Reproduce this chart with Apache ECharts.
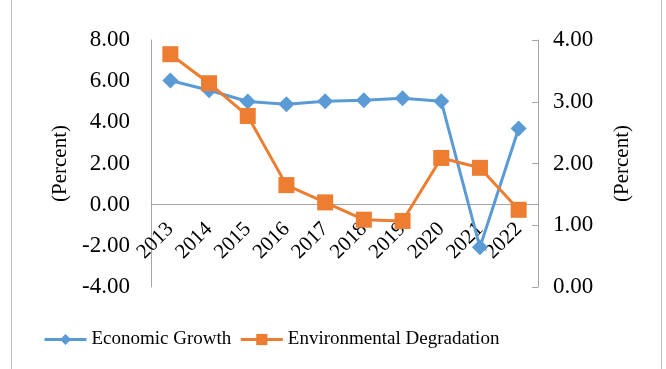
<!DOCTYPE html>
<html lang="en">
<head>
    <meta charset="UTF-8">
    <title>Growth vs Degradation</title>
    <script src="https://cdn.jsdelivr.net/npm/echarts@6/dist/echarts.min.js"></script>
    <style>
        body { margin: 0; background: #fff; }
    </style>
</head>
<body>
    <div id="main" style="width: 666px;height: 369px"></div>
    <script type="text/javascript">
        var years = ['2013', '2014', '2015', '2016', '2017', '2018', '2019', '2020', '2021', '2022'];
        var growth = [6.03, 5.56, 5.01, 4.88, 5.03, 5.07, 5.17, 5.02, -2.07, 3.70];
        var degradation = [3.77, 3.30, 2.77, 1.65, 1.37, 1.09, 1.07, 2.09, 1.93, 1.25];

        var font = 'Liberation Serif';
        var grey = '#a6a6a6';

        var myChart = echarts.init(document.getElementById('main'));
        var option = {
            animation: false,
            textStyle: { fontFamily: font, color: '#000' },
            graphic: [{
                type: 'rect',
                shape: { x: 11.5, y: -2, width: 650, height: 373 },
                style: { fill: 'none', stroke: '#bfbfbf', lineWidth: 1 }
            }],
            grid: { left: 151, right: 128, top: 40, bottom: 82 },
            legend: {
                bottom: 15,
                left: 38,
                itemWidth: 42,
                itemHeight: 14,
                itemGap: 8,
                lineStyle: { width: 3 },
                textStyle: { fontFamily: font, fontSize: 19, color: '#000' },
                data: ['Economic Growth', 'Environmental Degradation']
            },
            xAxis: {
                type: 'category',
                data: years,
                z: 0,
                axisLine: { onZero: true, lineStyle: { color: grey } },
                axisTick: { show: false },
                axisLabel: { rotate: 45, interval: 0, fontSize: 21, color: '#000', margin: -61, fontFamily: font }
            },
            yAxis: [{
                type: 'value',
                min: -4, max: 8, interval: 2,
                name: '(Percent)',
                nameLocation: 'middle',
                nameGap: 80,
                nameTextStyle: { fontFamily: font, fontSize: 21, color: '#000' },
                splitLine: { show: false },
                axisLine: { show: true, lineStyle: { color: grey } },
                axisTick: { show: false },
                axisLabel: { fontSize: 23, color: '#000', margin: 21, fontFamily: font,
                    formatter: function (v) { return v.toFixed(2); } }
            }, {
                type: 'value',
                min: 0, max: 4, interval: 1,
                position: 'right',
                name: '(Percent)',
                nameLocation: 'middle',
                nameGap: 74,
                nameRotate: 90,
                nameTextStyle: { fontFamily: font, fontSize: 21, color: '#000' },
                splitLine: { show: false },
                axisLine: { show: true, lineStyle: { color: grey } },
                axisTick: { show: true, inside: true, length: 6, lineStyle: { color: grey } },
                axisLabel: { fontSize: 23, color: '#000', margin: 15, fontFamily: font,
                    formatter: function (v) { return v.toFixed(2); } }
            }],
            series: [{
                name: 'Economic Growth',
                type: 'line',
                z: 10,
                yAxisIndex: 0,
                data: growth,
                symbol: 'diamond',
                symbolSize: 16,
                lineStyle: { width: 3, color: '#5b9bd5' },
                itemStyle: { color: '#5b9bd5' }
            }, {
                name: 'Environmental Degradation',
                type: 'line',
                z: 10,
                yAxisIndex: 1,
                data: degradation,
                symbol: 'rect',
                symbolSize: 16,
                lineStyle: { width: 3, color: '#ed7d31' },
                itemStyle: { color: '#ed7d31' }
            }]
        };
        myChart.setOption(option);
    </script>
</body>
</html>
